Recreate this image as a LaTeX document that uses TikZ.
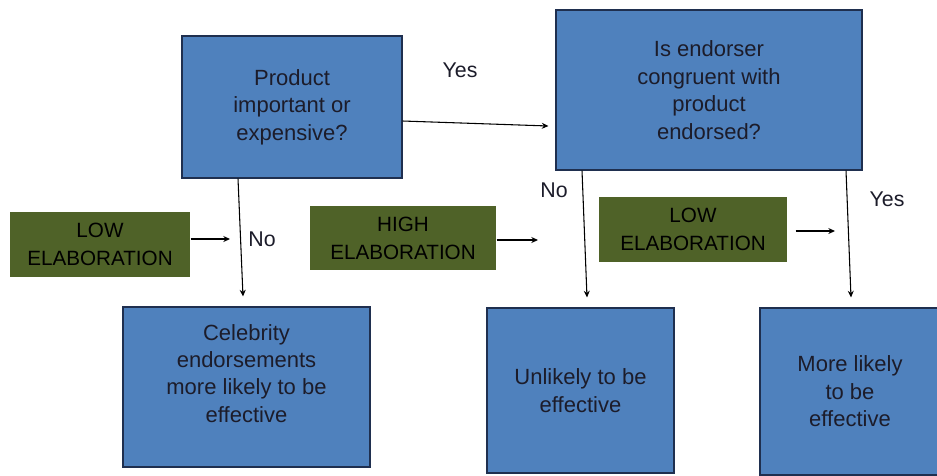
\documentclass[tikz,border=0pt]{standalone}
\usepackage{fontspec}
\setmainfont{Liberation Sans}
\usetikzlibrary{arrows.meta,calc}

\definecolor{boxblue}{HTML}{4F81BD}
\definecolor{boxedge}{HTML}{1F2F4F}
\definecolor{elabgreen}{HTML}{4F6228}
\definecolor{txtdark}{HTML}{1C1C2A}

\tikzset{
  question/.style={draw=boxedge, fill=boxblue, text=txtdark, align=center,
    inner sep=0pt, line width=0.8pt, font=\fontsize{16.5}{20.6}\selectfont},
  elab/.style={fill=elabgreen, text=black, align=center, inner sep=0pt,
    font=\fontsize{15.5}{21}\selectfont},
  answer/.style={text=txtdark, font=\fontsize{16}{19}\selectfont}
}

\begin{document}
\begin{tikzpicture}[x=0.75pt, y=-0.75pt, >={Stealth[length=5pt,width=4.5pt]}, line width=0.8pt]
  \useasboundingbox (0,0) rectangle (937,475);

  % decision boxes
  \node (prod)  at (292,107)   [question, minimum width=165pt, minimum height=106.5pt]
    {Product\\important or\\expensive?};
  \node (endo)  at (709,90)    [question, minimum width=229.5pt, minimum height=120pt]
    {Is endorser\\congruent with\\product\\endorsed?};
  \node (celeb) at (246.5,387) [question, minimum width=185.25pt, minimum height=120pt]
    {Celebrity\\endorsements\\more likely to be\\effective\\\mbox{}};
  \node (unlik) at (580.5,390.5) [question, minimum width=140.25pt, minimum height=123.75pt]
    {Unlikely to be\\effective};
  \node (more)  at (850,391.5) [question, minimum width=135pt, minimum height=125.25pt]
    {More likely\\to be\\effective};

  % elaboration boxes
  \node (low1) at (100,244.5) [elab, minimum width=135pt, minimum height=48.75pt] {LOW\\ELABORATION};
  \node (high) at (403,238)   [elab, minimum width=139.5pt, minimum height=48pt] {HIGH\\ELABORATION};
  \node (low2) at (693,229.5) [elab, minimum width=141pt, minimum height=48.75pt] {LOW\\ELABORATION};

  % answers
  \node (yes1) at (460,70)  [answer] {Yes};
  \node (no1)  at (262,239) [answer] {No};
  \node (no2)  at (554,190) [answer] {No};
  \node (yes2) at (887,199) [answer] {Yes};

  \coordinate (lowend1)  at (230,239);
  \coordinate (highend)  at (538,240);
  \coordinate (lowend2)  at (835,231);

  \draw[->] ($(prod.east)+(0,14)$) -- ($(endo.west)+(-7,36)$);
  \draw[->] ($(prod.south)+(-54,0)$) -- ($(celeb.north)+(-3.5,-10)$);
  \draw[->] ($(endo.south)+(-127,0)$) -- ($(unlik.north)+(6.5,-10)$);
  \draw[->] ($(endo.south)+(137,0)$) -- ($(more.north)+(1,-10)$);

  \draw[->] (low1.east |- lowend1) -- (lowend1);
  \draw[->] (high.east |- highend) -- (highend);
  \draw[->] ($(low2.east |- lowend2)+(8,0)$) -- (lowend2);
\end{tikzpicture}
\end{document}
